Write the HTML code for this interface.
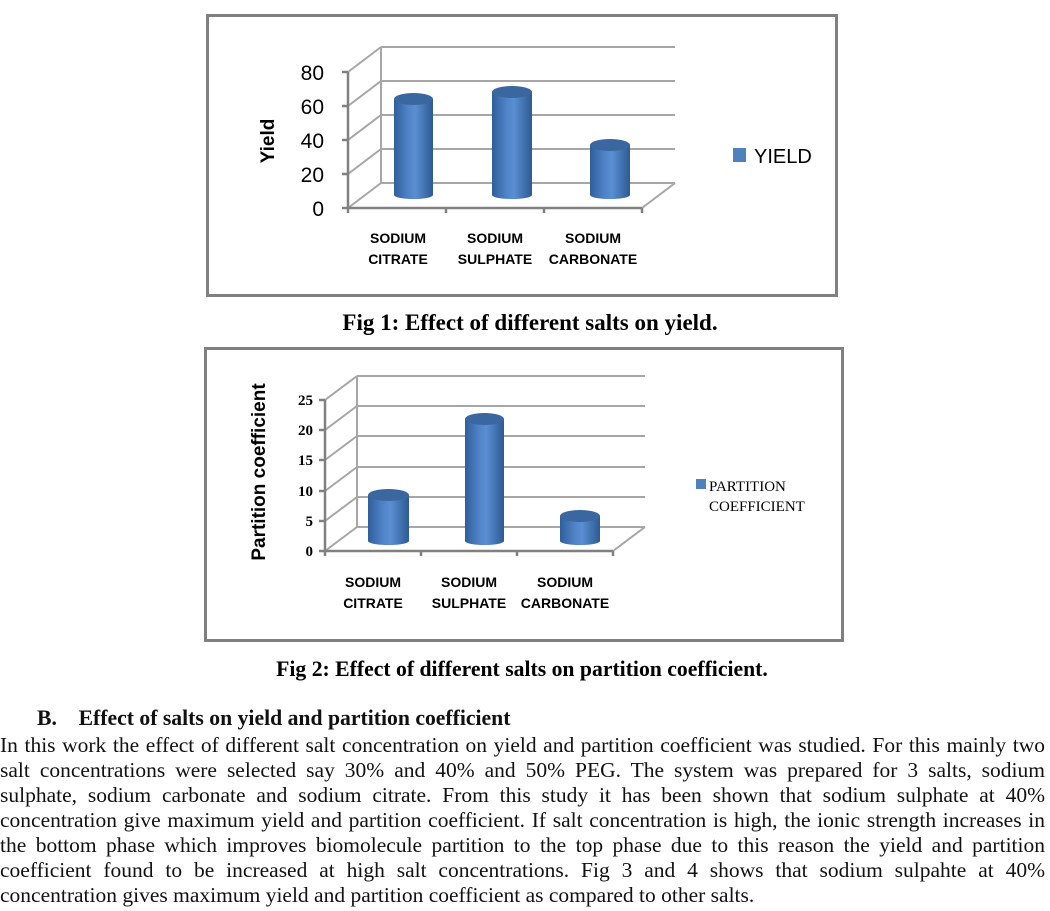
<!DOCTYPE html>
<html><head><meta charset="utf-8"><style>
body{margin:0;width:1050px;height:911px;background:#fff;position:relative;overflow:hidden;font-family:"Liberation Serif",serif;color:#111}
.ln{position:absolute;left:0;width:1045px;font-size:21.5px;text-align:justify;text-align-last:justify;white-space:nowrap;line-height:24px}
.last{text-align-last:left}
</style></head><body>
<svg width="1050" height="700" style="position:absolute;left:0;top:0">
<defs>
<linearGradient id="cy" x1="0" x2="1" y1="0" y2="0">
<stop offset="0" stop-color="#2f5e9a"/><stop offset="0.35" stop-color="#4f82c6"/><stop offset="0.55" stop-color="#5b8ed2"/><stop offset="1" stop-color="#2c5a93"/>
</linearGradient>
</defs>
<rect x="207.5" y="15.5" width="629" height="280" fill="none" stroke="#808080" stroke-width="3"/>
<g stroke="#a6a6a6" stroke-width="2" fill="none">
<line x1="381" y1="47" x2="675" y2="47"/><line x1="381" y1="81" x2="675" y2="81"/><line x1="381" y1="115" x2="675" y2="115"/><line x1="381" y1="149" x2="675" y2="149"/><line x1="381" y1="183" x2="675" y2="183"/>
<line x1="381" y1="47" x2="381" y2="183"/>
<line x1="348" y1="72" x2="381" y2="47"/><line x1="348" y1="106" x2="381" y2="81"/><line x1="348" y1="140" x2="381" y2="115"/><line x1="348" y1="174" x2="381" y2="149"/><line x1="348" y1="208" x2="381" y2="183"/>
<line x1="642" y1="208" x2="675" y2="183"/>
</g>
<g stroke="#808080" stroke-width="2.5" fill="none">
<line x1="348" y1="72" x2="348" y2="208"/><line x1="348" y1="208" x2="642" y2="208"/>
<line x1="342" y1="72" x2="348" y2="72"/><line x1="342" y1="106" x2="348" y2="106"/><line x1="342" y1="140" x2="348" y2="140"/><line x1="342" y1="174" x2="348" y2="174"/><line x1="342" y1="208" x2="348" y2="208"/>
<line x1="348" y1="208" x2="348" y2="213"/><line x1="446" y1="208" x2="446" y2="213"/><line x1="544" y1="208" x2="544" y2="213"/><line x1="642" y1="208" x2="642" y2="213"/>
</g>
<g fill="url(#cy)">
<rect x="394" y="99" width="39" height="96"/><ellipse cx="413.5" cy="195" rx="19.5" ry="4"/><ellipse cx="413.5" cy="99" rx="19.5" ry="6" fill="#3a679f"/>
<rect x="492" y="92" width="40" height="103"/><ellipse cx="512" cy="195" rx="20" ry="4"/><ellipse cx="512" cy="92" rx="20" ry="6" fill="#3a679f"/>
<rect x="590" y="145" width="40" height="50"/><ellipse cx="610" cy="195" rx="20" ry="4"/><ellipse cx="610" cy="145" rx="20" ry="6" fill="#3a679f"/>
</g>
<g font-family="Liberation Sans,sans-serif" font-size="21" text-anchor="end" fill="#000">
<text x="324" y="80">80</text><text x="324" y="114">60</text><text x="324" y="148">40</text><text x="324" y="182">20</text><text x="324" y="216">0</text>
</g>
<text transform="translate(274,141) rotate(-90)" text-anchor="middle" font-family="Liberation Sans,sans-serif" font-weight="bold" font-size="19">Yield</text>
<g font-family="Liberation Sans,sans-serif" font-weight="bold" font-size="14" text-anchor="middle">
<text x="398" y="243">SODIUM</text><text x="398" y="264">CITRATE</text>
<text x="495" y="243">SODIUM</text><text x="495" y="264">SULPHATE</text>
<text x="593" y="243">SODIUM</text><text x="593" y="264">CARBONATE</text>
</g>
<rect x="733" y="148" width="13" height="14" fill="#4f81bd"/>
<text x="754" y="163" font-family="Liberation Sans,sans-serif" font-size="20">YIELD</text>
<text x="530" y="330" text-anchor="middle" font-weight="bold" font-size="23">Fig 1: Effect of different salts on yield.</text>
<rect x="205.5" y="348.5" width="637" height="292" fill="none" stroke="#808080" stroke-width="3"/>
<g stroke="#a6a6a6" stroke-width="2" fill="none">
<line x1="357" y1="376" x2="645" y2="376"/><line x1="357" y1="406" x2="645" y2="406"/><line x1="357" y1="436" x2="645" y2="436"/><line x1="357" y1="467" x2="645" y2="467"/><line x1="357" y1="497" x2="645" y2="497"/><line x1="357" y1="527" x2="645" y2="527"/>
<line x1="357" y1="376" x2="357" y2="527"/>
<line x1="325" y1="400" x2="357" y2="376"/><line x1="325" y1="430" x2="357" y2="406"/><line x1="325" y1="460" x2="357" y2="436"/><line x1="325" y1="491" x2="357" y2="467"/><line x1="325" y1="521" x2="357" y2="497"/><line x1="325" y1="551" x2="357" y2="527"/>
<line x1="613" y1="551" x2="645" y2="527"/>
</g>
<g stroke="#808080" stroke-width="2.5" fill="none">
<line x1="325" y1="400" x2="325" y2="551"/><line x1="325" y1="551" x2="613" y2="551"/>
<line x1="319" y1="400" x2="325" y2="400"/><line x1="319" y1="430" x2="325" y2="430"/><line x1="319" y1="460" x2="325" y2="460"/><line x1="319" y1="491" x2="325" y2="491"/><line x1="319" y1="521" x2="325" y2="521"/><line x1="319" y1="551" x2="325" y2="551"/>
<line x1="325" y1="551" x2="325" y2="556"/><line x1="421" y1="551" x2="421" y2="556"/><line x1="517" y1="551" x2="517" y2="556"/><line x1="613" y1="551" x2="613" y2="556"/>
</g>
<g fill="url(#cy)">
<rect x="368" y="495" width="41" height="46"/><ellipse cx="388.5" cy="541" rx="20.5" ry="4"/><ellipse cx="388.5" cy="495" rx="20.5" ry="6" fill="#3a679f"/>
<rect x="465" y="419" width="39" height="122"/><ellipse cx="484.5" cy="541" rx="19.5" ry="4"/><ellipse cx="484.5" cy="419" rx="19.5" ry="6" fill="#3a679f"/>
<rect x="560" y="516" width="40" height="25"/><ellipse cx="580" cy="541" rx="20" ry="4"/><ellipse cx="580" cy="516" rx="20" ry="6" fill="#3a679f"/>
</g>
<g font-weight="bold" font-size="15" text-anchor="end" fill="#000">
<text x="313" y="405">25</text><text x="313" y="435">20</text><text x="313" y="465">15</text><text x="313" y="496">10</text><text x="313" y="526">5</text><text x="313" y="556">0</text>
</g>
<text transform="translate(265,472) rotate(-90)" text-anchor="middle" font-family="Liberation Sans,sans-serif" font-weight="bold" font-size="19">Partition coefficient</text>
<g font-family="Liberation Sans,sans-serif" font-weight="bold" font-size="14" text-anchor="middle">
<text x="373" y="587">SODIUM</text><text x="373" y="608">CITRATE</text>
<text x="469" y="587">SODIUM</text><text x="469" y="608">SULPHATE</text>
<text x="565" y="587">SODIUM</text><text x="565" y="608">CARBONATE</text>
</g>
<rect x="696" y="479" width="10" height="10" fill="#4f81bd"/>
<text x="709" y="491" font-size="15">PARTITION</text>
<text x="709" y="511" font-size="15">COEFFICIENT</text>
<text x="522" y="676" text-anchor="middle" font-weight="bold" font-size="21.7">Fig 2: Effect of different salts on partition coefficient.</text>
</svg>
<div style="position:absolute;left:37px;top:706px;font-size:21.7px;font-weight:bold">B.&nbsp;&nbsp;&nbsp;&nbsp;Effect of salts on yield and partition coefficient</div>
<div class="ln" style="top:733px">In this work the effect of different salt concentration on yield and partition coefficient was studied. For this mainly two</div>
<div class="ln" style="top:758px">salt concentrations were selected say 30% and 40% and 50% PEG. The system was prepared for 3 salts, sodium</div>
<div class="ln" style="top:783px">sulphate, sodium carbonate and sodium citrate. From this study it has been shown that sodium sulphate at 40%</div>
<div class="ln" style="top:808px">concentration give maximum yield and partition coefficient. If salt concentration is high, the ionic strength increases in</div>
<div class="ln" style="top:833px">the bottom phase which improves biomolecule partition to the top phase due to this reason the yield and partition</div>
<div class="ln" style="top:858px">coefficient found to be increased at high salt concentrations. Fig 3 and 4 shows that sodium sulpahte at 40%</div>
<div class="ln last" style="top:883px">concentration gives maximum yield and partition coefficient as compared to other salts.</div>
</body></html>
